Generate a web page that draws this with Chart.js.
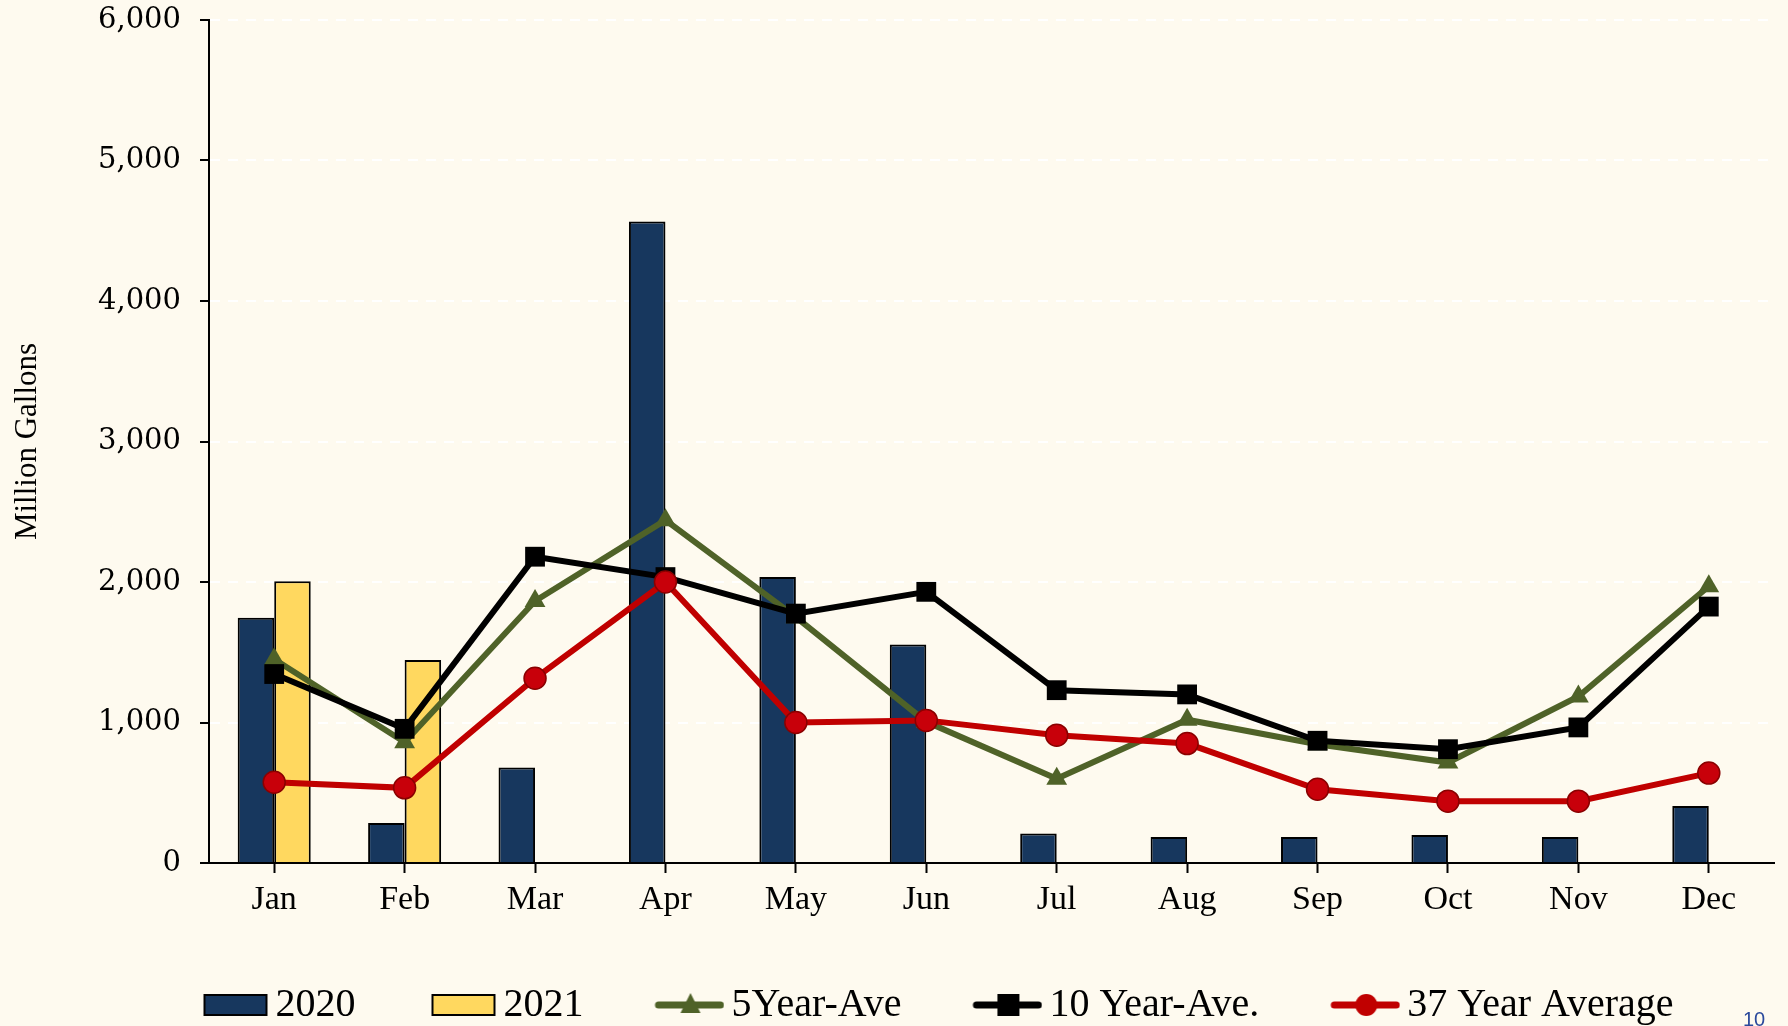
<!DOCTYPE html>
<html>
<head>
<meta charset="utf-8">
<script src="https://cdn.jsdelivr.net/npm/chart.js@4"></script>
<style>
  html, body { margin: 0; padding: 0; background: #fefaef; }
  #wrap { position: relative; width: 1788px; height: 1026px; overflow: hidden; }
  #pageNo { position: absolute; left: 1743px; top: 1008px; font: 20px "Liberation Sans", Arial, sans-serif; color: #2b4a9c; }
</style>
</head>
<body>
<div id="wrap">
  <canvas id="rainChart" width="1788" height="1035"></canvas>
  <div id="pageNo">10</div>
</div>
<script>
let months = ['Jan', 'Feb', 'Mar', 'Apr', 'May', 'Jun', 'Jul', 'Aug', 'Sep', 'Oct', 'Nov', 'Dec'];
let vol2020 = [1745, 285, 680, 4565, 2035, 1555, 210, 185, 185, 200, 185, 405];
let vol2021 = [2005, 1445, null, null, null, null, null, null, null, null, null, null];
let ave5 = [1450, 860, 1865, 2440, 1750, 1005, 600, 1020, 845, 715, 1185, 1970];
let ave10 = [1345, 955, 2180, 2035, 1775, 1930, 1230, 1200, 870, 810, 965, 1825];
let ave37 = [575, 535, 1315, 2000, 1000, 1015, 910, 850, 525, 440, 440, 640];

const serif = "'Liberation Serif', 'Times New Roman', serif";

// legend symbols: transparent on the left, symbol at the right edge
function makeIcon(kind, color) {
  let c = document.createElement('canvas');
  c.width = 150;
  c.height = 40;
  let g = c.getContext('2d');
  if (kind === 'bar') {
    g.fillStyle = color;
    g.fillRect(86, 10, 62, 20);
    g.strokeStyle = '#000';
    g.lineWidth = 2;
    g.strokeRect(86, 10, 62, 20);
    return c;
  }
  g.strokeStyle = color;
  g.lineWidth = 7;
  g.lineCap = 'round';
  g.beginPath();
  g.moveTo(84, 20);
  g.lineTo(146, 20);
  g.stroke();
  g.fillStyle = color;
  let cx = 116;
  if (kind === 'triangle') {
    g.beginPath();
    g.moveTo(cx, 8);
    g.lineTo(cx + 10, 28);
    g.lineTo(cx - 10, 28);
    g.closePath();
    g.fill();
  } else if (kind === 'rect') {
    g.fillRect(cx - 11, 9, 22, 22);
  } else {
    g.beginPath();
    g.arc(cx, 20, 11, 0, Math.PI * 2);
    g.fill();
  }
  return c;
}

let legendIcons = [
  makeIcon('bar', '#17375e'),
  makeIcon('bar', '#ffd85f'),
  makeIcon('triangle', '#4f6228'),
  makeIcon('rect', '#000000'),
  makeIcon('circle', '#c00000')
];

let data = {
  labels: months,
  datasets: [
    {
      type: 'bar',
      label: '2020',
      data: vol2020,
      backgroundColor: '#17375e',
      borderColor: '#000',
      borderWidth: 2,
      categoryPercentage: 0.56,
      barPercentage: 1.0,
      order: 3
    },
    {
      type: 'bar',
      label: '2021',
      data: vol2021,
      backgroundColor: '#ffd85f',
      borderColor: '#000',
      borderWidth: 2,
      categoryPercentage: 0.56,
      barPercentage: 1.0,
      order: 4
    },
    {
      type: 'line',
      label: '5Year-Ave',
      data: ave5,
      borderColor: '#4f6228',
      backgroundColor: '#4f6228',
      borderWidth: 6,
      pointStyle: 'triangle',
      pointRadius: 12,
      pointBorderWidth: 0,
      order: 2
    },
    {
      type: 'line',
      label: '10 Year-Ave.',
      data: ave10,
      borderColor: '#000',
      backgroundColor: '#000',
      borderWidth: 6,
      pointStyle: 'rect',
      pointRadius: 14,
      pointBorderWidth: 0,
      order: 1
    },
    {
      type: 'line',
      label: '37 Year Average',
      data: ave37,
      borderColor: '#c00000',
      backgroundColor: '#c8000a',
      borderWidth: 6,
      pointStyle: 'circle',
      pointRadius: 11,
      pointBorderColor: '#8a0000',
      pointBorderWidth: 1.5,
      order: 0
    }
  ]
};

new Chart(document.getElementById('rainChart').getContext('2d'), {
  type: 'bar',
  data: data,
  options: {
    responsive: false,
    animation: false,
    layout: { padding: { left: 30, right: 13, top: 0, bottom: 0 } },
    plugins: {
      tooltip: { enabled: false },
      legend: {
        position: 'bottom',
        labels: {
          usePointStyle: true,
          pointStyleWidth: 124,
          padding: 4,
          color: '#000',
          font: { family: serif, size: 40 },
          sort: (a, b) => a.datasetIndex - b.datasetIndex,
          generateLabels(chart) {
            let items = Chart.defaults.plugins.legend.labels.generateLabels(chart);
            items.forEach(it => { it.pointStyle = legendIcons[it.datasetIndex]; });
            return items;
          }
        }
      }
    },
    scales: {
      x: {
        afterFit(scale) { scale.height = 118; },
        border: { color: '#000', width: 2 },
        grid: {
          offset: false,
          drawOnChartArea: false,
          tickColor: '#000',
          tickWidth: 2,
          tickLength: 10
        },
        ticks: { color: '#000', padding: 7, font: { family: serif, size: 34 } }
      },
      y: {
        min: 0,
        max: 6000,
        afterFit(scale) {
          scale.width = 179;
          scale.paddingTop = 20;
        },
        border: { color: '#000', width: 2, dash: [10, 8] },
        grid: {
          color: '#ffffff',
          lineWidth: 2,
          tickColor: '#000',
          tickWidth: 2,
          tickLength: 9
        },
        ticks: { stepSize: 1000, color: '#000', padding: 19, font: { family: "'DejaVu Serif', serif", size: 29 } },
        title: {
          display: true,
          text: 'Million Gallons',
          color: '#000',
          padding: { top: -21, bottom: 0 },
          font: { family: serif, size: 31 }
        }
      }
    }
  }
});
</script>
</body>
</html>
